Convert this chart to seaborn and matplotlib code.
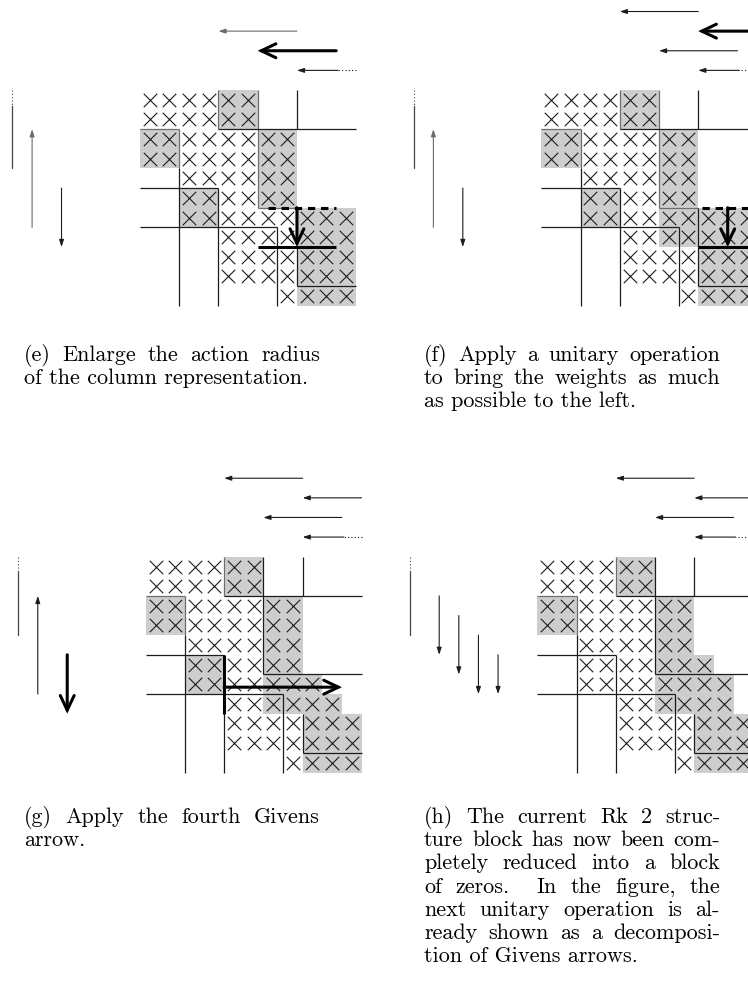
import matplotlib
matplotlib.use("Agg")
import matplotlib.pyplot as plt
import numpy as np
import pandas as pd
import seaborn as sns

sns.set_theme(style="white")
plt.rcParams["font.family"] = ["cmr10", "DejaVu Serif"]
plt.rcParams["axes.formatter.use_mathtext"] = True

# ---------------- matrix contents: (row, first column, last column + 1) ----------------
E_CROSSES = [(0, 0, 6), (1, 0, 6), (2, 0, 8), (3, 0, 8), (4, 2, 8), (5, 2, 8),
             (6, 2, 11), (7, 4, 11), (8, 4, 11), (9, 4, 11), (10, 7, 11)]
E_SHADED = [(0, 4, 6), (1, 4, 6), (2, 0, 2), (2, 6, 8), (3, 0, 2), (3, 6, 8), (4, 6, 8),
            (5, 2, 4), (5, 6, 8), (6, 2, 4), (6, 8, 11), (7, 8, 11), (8, 8, 11),
            (9, 8, 11), (10, 8, 11)]

F_CROSSES = E_CROSSES
F_SHADED = E_SHADED + [(6, 6, 8), (7, 6, 8)]

G_CROSSES = [(0, 0, 6), (1, 0, 6), (2, 0, 8), (3, 0, 8), (4, 2, 8), (5, 2, 8),
             (6, 2, 9), (7, 4, 10), (8, 4, 11), (9, 4, 11), (10, 7, 11)]
G_SHADED = [(0, 4, 6), (1, 4, 6), (2, 0, 2), (2, 6, 8), (3, 0, 2), (3, 6, 8), (4, 6, 8),
            (5, 2, 4), (5, 6, 8), (6, 2, 4), (6, 6, 9), (7, 6, 10), (8, 8, 11),
            (9, 8, 11), (10, 8, 11)]

H_CROSSES = [(0, 0, 6), (1, 0, 6), (2, 0, 8), (3, 0, 8), (4, 2, 8), (5, 2, 9),
             (6, 2, 10), (7, 4, 10), (8, 4, 11), (9, 4, 11), (10, 7, 11)]
H_SHADED = [(0, 4, 6), (1, 4, 6), (2, 0, 2), (2, 6, 8), (3, 0, 2), (3, 6, 8), (4, 6, 8),
            (5, 6, 9), (6, 6, 10), (7, 6, 10), (8, 8, 11), (9, 8, 11), (10, 8, 11)]

# ---------------- structure rules (x1, y1, x2, y2) in cell units ----------------
E_RULES = [(8, 0, 8, 2), (4, 2, 11, 2), (0, 5, 4, 5), (2, 4, 2, 11), (4, 5, 4, 11),
           (0, 7, 7, 7), (7, 7, 7, 11), (8, 8, 8, 10), (8, 10, 11, 10)]
E_EDGES = [(4, 0, 4, 2), (0, 2, 2, 2), (2, 2, 2, 4), (6, 0, 6, 6), (6, 6, 8, 6)]
F_RULES = E_RULES + [(8, 6, 8, 8)]
F_EDGES = E_EDGES
G_RULES = [(8, 0, 8, 2), (4, 2, 11, 2), (6, 0, 6, 6), (6, 6, 11, 6), (0, 5, 4, 5),
           (2, 4, 2, 11), (4, 5, 4, 11), (0, 7, 7, 7), (7, 7, 7, 11), (8, 8, 8, 10),
           (8, 10, 11, 10)]
G_EDGES = [(4, 0, 4, 2), (0, 2, 2, 2), (2, 2, 2, 4)]
H_RULES = G_RULES
H_EDGES = G_EDGES

# highlighted (bold / dashed) segments and bold arrows
E_BOLD = [(6, 8, 10, 8)]
E_DASHED = [(6.5, 6, 10, 6)]
E_BOLD_ARROWS = [((8, 6), (8, 8))]
F_BOLD = [(8, 8, 11.4, 8)]
F_DASHED = [(8.2, 6, 11.4, 6)]
F_BOLD_ARROWS = [((9.5, 6), (9.5, 8))]
G_BOLD = [(4, 5, 4, 8)]
G_DASHED = []
G_BOLD_ARROWS = [((4, 6.65), (10, 6.65))]
H_BOLD, H_DASHED, H_BOLD_ARROWS = [], [], []

# Givens arrows above the matrix: (row, tail column, head column, kind)
E_TOP = [(-3, 8, 4, "grey"), (-2, 10, 6, "thick"), (-1, 11, 8, "dotted")]
F_TOP = [(-4, 8, 4, "thin"), (-3, 11, 8, "thick"), (-2, 10, 6, "thin"), (-1, 11, 8, "dotted")]
G_TOP = [(-4, 8, 4, "thin"), (-3, 11, 8, "thin"), (-2, 10, 6, "thin"), (-1, 11, 8, "dotted")]
H_TOP = G_TOP

# Givens arrows left of the matrix: (column, tail row, head row, kind)
E_LEFT = [(-6.5, 0, 4, "stub"), (-5.5, 7, 2, "grey"), (-4, 5, 8, "thin")]
F_LEFT = E_LEFT
G_LEFT = [(-6.5, 0, 4, "stub"), (-5.5, 7, 2, "thin"), (-4, 5, 8, "thick")]
H_LEFT = [(-6.5, 0, 4, "stub"), (-5, 2, 5, "thin"), (-4, 3, 6, "thin"),
          (-3, 4, 7, "thin"), (-2, 5, 7, "thin")]

E_CAPTION = ["(e) Enlarge the action radius", "of the column representation."]
F_CAPTION = ["(f) Apply a unitary operation", "to bring the weights as much",
             "as possible to the left."]
G_CAPTION = ["(g) Apply the fourth Givens", "arrow."]
H_CAPTION = ["(h) The current Rk 2 struc-", "ture block has now been com-",
             "pletely reduced into a block", "of zeros.  In the figure, the",
             "next unitary operation is al-", "ready shown as a decomposi-",
             "tion of Givens arrows."]

# ---------------- layout ----------------
W_PX, H_PX, DPI = 748, 985, 100
CELL = 19.62
SHADE = "#cdcdcd"
INK = "#1c1c1c"
EDGE = "#6e6e6e"
GREY_ARROW = "#6a6a6a"

fig = plt.figure(figsize=(W_PX / DPI, H_PX / DPI), dpi=DPI)
fig.patch.set_facecolor("white")


def panel_axes(box, origin):
    left, right, top, bottom = box
    x0, y0 = origin
    ax = fig.add_axes([left / W_PX, 1 - bottom / H_PX, (right - left) / W_PX, (bottom - top) / H_PX])
    ax.set_xlim((left - x0) / CELL, (right - x0) / CELL)
    ax.set_ylim((bottom - y0) / CELL, (top - y0) / CELL)
    ax.axis("off")
    return ax


def cells(spans):
    rows, cols = [], []
    for r, c0, c1 in spans:
        for c in range(c0, c1):
            rows.append(r + 0.5)
            cols.append(c + 0.5)
    return pd.DataFrame({"col": cols, "row": rows})


def seg(ax, segs, **kw):
    for x1, y1, x2, y2 in segs:
        ax.plot([x1, x2], [y1, y2], solid_capstyle="butt", **kw)


def arrow(ax, tail, head, kind):
    if kind == "thick":
        props = dict(arrowstyle="->,head_length=1.05,head_width=0.5", lw=2.2, color="black",
                     shrinkA=0, shrinkB=0, mutation_scale=10, joinstyle="miter")
    else:
        color = GREY_ARROW if kind == "grey" else INK
        props = dict(arrowstyle="-|>,head_length=0.42,head_width=0.14", lw=0.8, color=color,
                     shrinkA=0, shrinkB=0, mutation_scale=10)
    ax.annotate("", xy=head, xytext=tail, arrowprops=props, annotation_clip=False)


def draw_panel(ax, crosses, shaded, rules, edges, bold, dashed, bold_arrows, top, left):
    for r, c0, c1 in shaded:
        ax.broken_barh([(c0, c1 - c0)], (r, 1), facecolors=SHADE, edgecolor="none", zorder=1)
    seg(ax, edges, color=EDGE, lw=0.9, zorder=2)
    seg(ax, rules, color=INK, lw=0.9, zorder=2)
    sns.scatterplot(data=cells(crosses), x="col", y="row", marker="x", s=94,
                    color=INK, linewidth=0.8, ax=ax, legend=False, zorder=3)
    seg(ax, bold, color="black", lw=2.2, zorder=4)
    seg(ax, dashed, color="black", lw=2.2, linestyle=(0, (2.4, 1.9)), zorder=4)
    for tail, head in bold_arrows:
        arrow(ax, tail, head, "thick")
    for r, c_tail, c_head, kind in top:
        if kind == "dotted":
            mid = c_tail - 0.9
            ax.plot([c_tail, mid], [r, r], color=INK, lw=0.8, linestyle=(0, (1, 2)))
            arrow(ax, (mid, r), (c_head, r), "thin")
        else:
            arrow(ax, (c_tail, r), (c_head, r), kind)
    for c, r_tail, r_head, kind in left:
        if kind == "stub":
            ax.plot([c, c], [r_tail, r_tail + 0.8], color="#444444", lw=0.8, linestyle=(0, (1, 2)))
            ax.plot([c, c], [r_tail + 0.8, r_head], color="#444444", lw=0.9)
        else:
            arrow(ax, (c, r_tail), (c, r_head), kind)
    ax.set_xlabel("")
    ax.set_ylabel("")


PANELS = [
    ((0, 374, 0, 335), (140.0, 90.0), E_CROSSES, E_SHADED, E_RULES, E_EDGES, E_BOLD, E_DASHED, E_BOLD_ARROWS, E_TOP, E_LEFT),
    ((374, 748, 0, 335), (541.3, 90.0), F_CROSSES, F_SHADED, F_RULES, F_EDGES, F_BOLD, F_DASHED, F_BOLD_ARROWS, F_TOP, F_LEFT),
    ((0, 374, 450, 800), (145.7, 556.7), G_CROSSES, G_SHADED, G_RULES, G_EDGES, G_BOLD, G_DASHED, G_BOLD_ARROWS, G_TOP, G_LEFT),
    ((374, 748, 450, 800), (537.3, 556.7), H_CROSSES, H_SHADED, H_RULES, H_EDGES, H_BOLD, H_DASHED, H_BOLD_ARROWS, H_TOP, H_LEFT),
]
for box, origin, *content in PANELS:
    draw_panel(panel_axes(box, origin), *content)

# ---------------- justified captions ----------------
cap = fig.add_axes([0, 0, 1, 1])
cap.set_xlim(0, W_PX)
cap.set_ylim(H_PX, 0)
cap.axis("off")
cap.patch.set_alpha(0)
renderer = fig.canvas.get_renderer()
CAP_SIZE = 15.9
LEAD = 23.2
CAP_WIDTH = 296


def word_width(word):
    t = cap.text(0, 0, word, fontsize=CAP_SIZE)
    w = t.get_window_extent(renderer).width
    t.remove()
    return w


def caption(lines, x, y):
    for i, line in enumerate(lines):
        yy = y + i * LEAD
        if i == len(lines) - 1:
            cap.text(x, yy, line, fontsize=CAP_SIZE, va="baseline", ha="left", color="black")
            continue
        words = line.split(" ")
        widths = [word_width(w) if w else 0.0 for w in words]
        gap = (CAP_WIDTH - sum(widths)) / (len(words) - 1)
        pos = x
        for w, wd in zip(words, widths):
            if w:
                cap.text(pos, yy, w, fontsize=CAP_SIZE, va="baseline", ha="left", color="black")
            pos += wd + gap


caption(E_CAPTION, 24, 361)
caption(F_CAPTION, 424, 361)
caption(G_CAPTION, 24, 823)
caption(H_CAPTION, 424, 823)

fig.savefig("out.png", dpi=DPI, facecolor="white")
